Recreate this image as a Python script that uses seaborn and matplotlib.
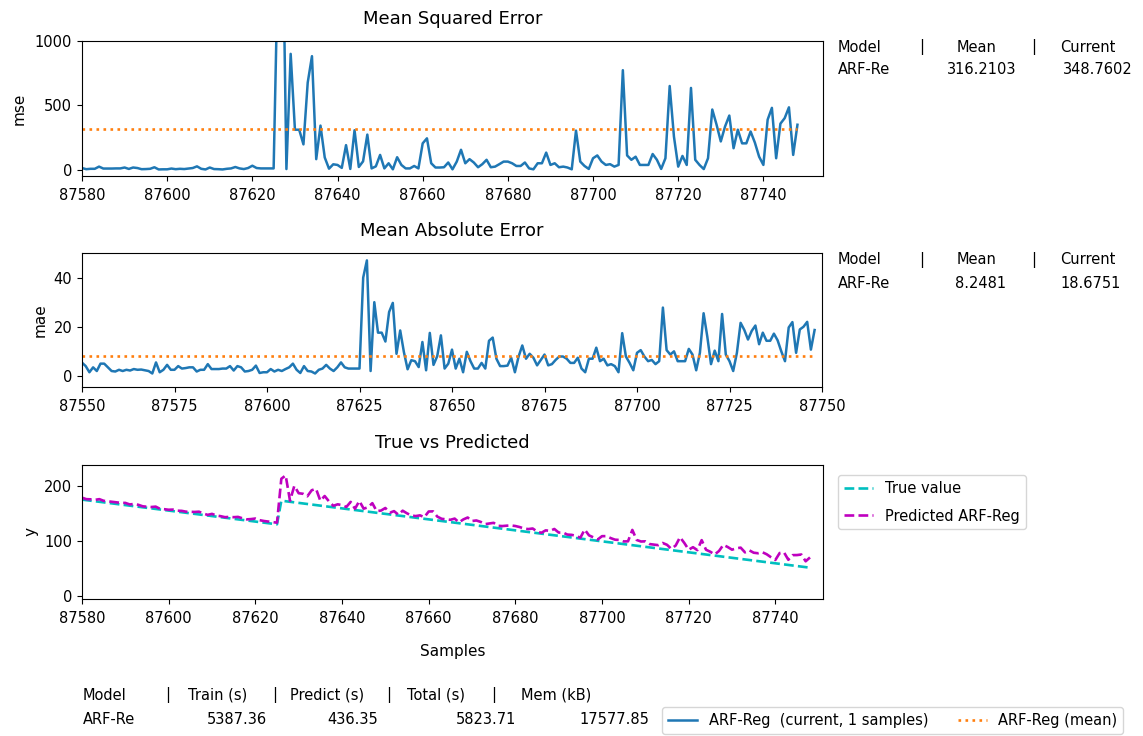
import matplotlib
matplotlib.use("Agg")
import matplotlib.pyplot as plt
import seaborn as sns

# ---------------------------------
# Values
# ---------------------------------

mae_samples = list(range(87550, 87749))
mae_current = [
    5.4, 4, 1.5, 3.5, 2, 5, 5, 3.5, 2, 1.8,
    2.5, 2, 2.5, 2.2, 2.8, 2.5, 2.6, 2.3, 2, 1,
    5.5, 1.5, 2.5, 4.5, 2.5, 2.5, 4, 3, 3.2, 3.5,
    3.5, 1.8, 2.5, 2.5, 4.8, 2.8, 2.8, 2.8, 3, 3,
    4, 2.2, 4, 3.5, 1.8, 2, 2.5, 4.2, 1.2, 1.5,
    1.5, 2.8, 1.8, 2.5, 2, 2.8, 3.5, 5, 2.5, 1.2,
    4, 2, 1.8, 1, 2.5, 3, 4.5, 3, 2, 3.5,
    5.5, 3.5, 3, 3, 3, 3, 40, 47, 2, 30,
    17.6, 17.6, 14, 26, 29.7, 9, 18.5, 9.7, 2.7, 6.4,
    6, 3.6, 13.8, 2.3, 17.5, 4.5, 8, 16.5, 3, 5,
    10.7, 3, 7, 1.5, 9.8, 6, 3, 3, 5.3, 3,
    14.3, 15.6, 7, 4, 4, 4.2, 7.4, 1.5, 7.9, 12.4,
    7, 9, 7.4, 4.3, 6.5, 8.7, 4.3, 4.8, 6.5, 7.9,
    7.9, 7, 5.3, 5.3, 7.4, 3, 1.5, 7, 7, 11.5,
    6, 7, 4.3, 4.8, 4, 1.5, 17.4, 7.9, 5.3, 2.3,
    9.4, 10.5, 7.9, 6, 6.5, 4.8, 6, 27.8, 10.5, 8.7,
    10, 6, 6, 6, 11, 8.7, 2.3, 9.4, 25.5, 16,
    4.8, 10.3, 6, 25.2, 8.7, 6, 2, 9.4, 21.6, 18.7,
    14.8, 18.3, 20.5, 12.9, 17.6, 14.3, 14.3, 17.2, 14.5, 10,
    6, 19.7, 21.9, 9.4, 18.9, 20, 22, 10.7, 18.6751,
]

mse_samples = list(range(87580, 87749))
mse_current = [
    12, 3, 6, 6, 23, 8, 8, 8, 9, 9,
    16, 5, 16, 12, 3, 4, 6, 18, 1, 2,
    2, 8, 3, 6, 4, 8, 12, 25, 6, 1,
    16, 4, 3, 1, 6, 9, 20, 9, 4, 12,
    30, 12, 9, 9, 9, 9, 1600, 2209, 4, 900,
    310, 310, 196, 676, 882, 81, 342, 94, 7, 41,
    36, 13, 190, 5, 306, 20, 64, 272, 9, 25,
    114, 9, 49, 2, 96, 36, 9, 9, 28, 9,
    204, 243, 49, 16, 16, 18, 55, 2, 62, 154,
    49, 81, 55, 18, 42, 76, 18, 23, 42, 62,
    62, 49, 28, 28, 55, 9, 2, 49, 49, 132,
    36, 49, 18, 23, 16, 2, 303, 62, 28, 5,
    88, 110, 62, 36, 42, 23, 36, 773, 110, 76,
    100, 36, 36, 36, 121, 76, 5, 88, 650, 256,
    23, 106, 36, 635, 76, 36, 4, 88, 467, 350,
    219, 335, 420, 166, 310, 204, 204, 296, 210, 100,
    36, 388, 480, 88, 357, 400, 484, 114, 348.7602,
]

y_samples = list(range(87580, 87749))
y_true = [
    176, 175, 174, 173, 172, 171, 170, 169, 168, 167,
    166, 165, 164, 163, 162, 161, 160, 159, 158, 157,
    156, 155, 154, 153, 152, 151, 150, 149, 148, 147,
    146, 145, 144, 143, 142, 141, 140, 139, 138, 137,
    136, 135, 134, 133, 132, 131, 174, 173, 172, 171,
    170, 169, 168, 167, 166, 165, 164, 163, 162, 161,
    160, 159, 158, 157, 156, 155, 154, 153, 152, 151,
    150, 149, 148, 147, 146, 145, 144, 143, 142, 141,
    140, 139, 138, 137, 136, 135, 134, 133, 132, 131,
    130, 129, 128, 127, 126, 125, 124, 123, 122, 121,
    120, 119, 118, 117, 116, 115, 114, 113, 112, 111,
    110, 109, 108, 107, 106, 105, 104, 103, 102, 101,
    100, 99, 98, 97, 96, 95, 94, 93, 92, 91,
    90, 89, 88, 87, 86, 85, 84, 83, 82, 81,
    80, 79, 78, 77, 76, 75, 74, 73, 72, 71,
    70, 69, 68, 67, 66, 65, 64, 63, 62, 61,
    60, 59, 58, 57, 56, 55, 54, 53, 52,
]
y_pred = [
    179.5, 176.8, 176.5, 175.5, 176.8, 173.8, 172.8, 171.8, 171, 170,
    170, 167.2, 168, 166.5, 163.8, 163, 162.5, 163.2, 159.2, 158.5,
    157.5, 157.8, 155.8, 155.5, 154, 153.8, 153.5, 154, 150.5, 148.2,
    150, 147, 145.8, 144, 144.5, 144, 144.5, 142, 140, 140.5,
    141.5, 138.5, 137, 136, 135, 134, 214, 220, 174, 201,
    187.6, 186.6, 182, 193, 195.7, 174, 182.5, 172.7, 164.7, 167.4,
    166, 162.6, 171.8, 159.3, 173.5, 159.5, 162, 169.5, 155, 156,
    160.7, 152, 155, 148.5, 155.8, 151, 147, 146, 147.3, 144,
    154.3, 154.6, 145, 141, 140, 139.2, 141.4, 134.5, 139.9, 143.4,
    137, 138, 135.4, 131.3, 132.5, 133.7, 128.3, 127.8, 128.5, 128.9,
    127.9, 126, 123.3, 122.3, 123.4, 118, 115.5, 120, 119, 122.5,
    116, 116, 112.3, 111.8, 110, 106.5, 121.4, 110.9, 107.3, 103.3,
    109.4, 109.5, 105.9, 103, 102.5, 99.8, 100, 120.8, 102.5, 99.7,
    100, 95, 94, 93, 97, 93.7, 86.3, 92.4, 107.5, 97,
    84.8, 89.3, 84, 102.2, 84.7, 81, 76, 82.4, 93.6, 89.7,
    84.8, 87.3, 88.5, 79.9, 83.6, 79.3, 78.3, 80.2, 76.5, 71,
    66, 78.7, 79.9, 66.4, 74.9, 75, 76, 63.7, 70.7,
]

mse_mean = 316.2103
mae_mean = 8.2481

metric_header = ["Model", "|", "Mean", "|", "Current"]
mse_row = ["ARF-Re", "316.2103", "348.7602"]
mae_row = ["ARF-Re", "8.2481", "18.6751"]
time_header = ["Model", "|", "Train (s)", "|", "Predict (s)", "|", "Total (s)", "|", "Mem (kB)"]
time_row = ["ARF-Re", "5387.36", "436.35", "5823.71", "17577.85"]

# ---------------------------------
# Figure setup
# ---------------------------------

plt.rcParams["axes.formatter.useoffset"] = False
plt.rcParams["xtick.labelsize"] = 10.5
plt.rcParams["ytick.labelsize"] = 10.5
plt.rcParams["xtick.major.pad"] = 5
plt.rcParams["axes.labelsize"] = 11
plt.rcParams["axes.titlesize"] = 13

W, H = 1143, 736
fig = plt.figure(figsize=(W / 100, H / 100), dpi=100)


def px_axes(left, top, right, bottom):
    return fig.add_axes([left / W, 1 - bottom / H, (right - left) / W, (bottom - top) / H])


def px_text(x, y, s, size=10.5):
    fig.text(x / W, 1 - y / H, s, ha="left", va="center", fontsize=size)


blue = "#1f77b4"
orange = "#ff7f0e"

# ---------------------------------
# Mean Squared Error
# ---------------------------------

ax_mse = px_axes(82, 41, 823, 176)
sns.lineplot(x=mse_samples, y=mse_current, ax=ax_mse, color=blue, linewidth=1.8,
             label="ARF-Reg  (current, 1 samples)", legend=False)
sns.lineplot(x=[mse_samples[0], mse_samples[-1]], y=[mse_mean, mse_mean], ax=ax_mse,
             color=orange, linestyle=":", linewidth=1.9, label="ARF-Reg (mean)", legend=False)
ax_mse.set_xlim(87580, 87754)
ax_mse.set_ylim(-50, 1000)
ax_mse.set_yticks([0, 500, 1000])
ax_mse.set_ylabel("mse", labelpad=6)
ax_mse.set_title("Mean Squared Error", pad=12)

# ---------------------------------
# Mean Absolute Error
# ---------------------------------

ax_mae = px_axes(82, 253, 822, 387)
sns.lineplot(x=mae_samples, y=mae_current, ax=ax_mae, color=blue, linewidth=1.8, legend=False)
sns.lineplot(x=[mae_samples[0], mae_samples[-1]], y=[mae_mean, mae_mean], ax=ax_mae,
             color=orange, linestyle=":", linewidth=1.9, legend=False)
ax_mae.set_xlim(87550, 87750)
ax_mae.set_ylim(-4.5, 50)
ax_mae.set_yticks([0, 20, 40])
ax_mae.set_ylabel("mae")
ax_mae.set_title("Mean Absolute Error", pad=12)

# ---------------------------------
# True vs Predicted
# ---------------------------------

ax_y = px_axes(82, 465, 823, 599)
sns.lineplot(x=y_samples, y=y_true, ax=ax_y, color="c", linestyle="--", linewidth=1.9,
             label="True value")
sns.lineplot(x=y_samples, y=y_pred, ax=ax_y, color="m", linestyle="--", linewidth=1.9,
             label="Predicted ARF-Reg")
ax_y.set_xlim(87580, 87751)
ax_y.set_ylim(-5, 239)
ax_y.set_yticks([0, 100, 200])
ax_y.set_ylabel("y")
ax_y.set_xlabel("Samples", labelpad=13)
ax_y.set_title("True vs Predicted", pad=12)
ax_y.legend(loc="upper left", bbox_to_anchor=(831 / W, 1 - 468 / H),
            bbox_transform=fig.transFigure, fontsize=10.5, labelspacing=0.85)

# ---------------------------------
# Text tables
# ---------------------------------

header_x = [838, 919, 957, 1031, 1060]
for x, s in zip(header_x, metric_header):
    px_text(x, 47, s)
    px_text(x, 260, s)
for x, s in zip([838, 947, 1063], mse_row):
    px_text(x, 70, s)
for x, s in zip([838, 955, 1060], mae_row):
    px_text(x, 283, s)

for x, s in zip([83, 165, 188, 272, 290, 386, 407, 491, 521], time_header):
    px_text(x, 695, s)
for x, s in zip([83, 207, 327, 456, 579], time_row):
    px_text(x, 720, s)

# bottom legend, partly cut by the figure edge as in the original
handles = ax_mse.get_lines()[:2]
fig.legend(handles, [h.get_label() for h in handles], loc="upper left",
           bbox_to_anchor=(655 / W, 1 - 700 / H), ncol=2, fontsize=10.5)

fig.savefig("out.png", dpi=100)
